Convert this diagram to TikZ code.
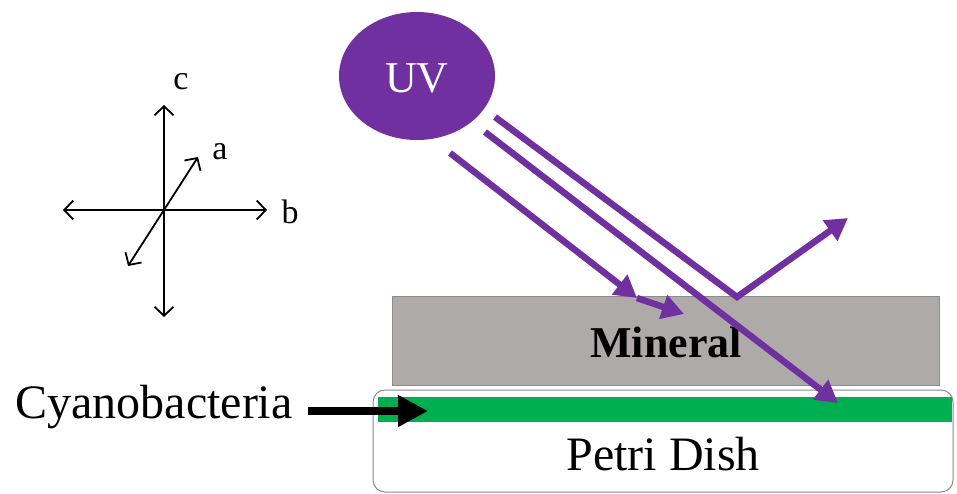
\documentclass[tikz,border=0pt]{standalone}
\usepackage{fontspec}
\setmainfont{Liberation Serif}
\usetikzlibrary{arrows.meta,shapes.geometric}

\definecolor{uvpurple}{HTML}{7030A0}
\definecolor{mineralgray}{HTML}{AEAAAA}
\definecolor{mineraledge}{HTML}{8F8B8B}
\definecolor{cyanogreen}{HTML}{00B050}
\definecolor{dishedge}{HTML}{8A8A8A}

\tikzset{
  axisline/.style={line width=1.8pt, {Straight Barb[length=9pt,width=19pt,line width=1.8pt]}-{Straight Barb[length=9pt,width=19pt,line width=1.8pt]}},
  axislabel/.style={font=\fontsize{34}{34}\selectfont, inner sep=0pt},
  ray/.style={draw=uvpurple, line width=6.5pt, line join=miter,
    -{Triangle[length=22pt,width=24pt]}},
  bigtext/.style={font=\fontsize{48}{48}\selectfont, inner sep=0pt, anchor=base},
}

\begin{document}
\begin{tikzpicture}[x=1pt,y=-1pt]
\useasboundingbox (0,0) rectangle (957,493);

% crystal axes
\coordinate (o) at (164,210);
\coordinate (ctop) at (164,105);
\coordinate (cbot) at (164,317);
\coordinate (bleft) at (63,210);
\coordinate (bright) at (267,210);
\coordinate (alow) at (128,266);
\coordinate (ahigh) at (198,157);
\draw[axisline] (cbot) -- (ctop);
\draw[axisline] (bleft) -- (bright);
\draw[axisline] (alow) -- (ahigh);
\node[axislabel] (lc) at (181,82) {c};
\node[axislabel] (la) at (220,152) {a};
\node[axislabel] (lb) at (290,212) {b};

% petri dish with the cyanobacteria layer
\draw[dishedge, fill=white, line width=1pt, rounded corners=12pt]
  (373,390) rectangle (953,492);
\fill[cyanogreen] (378,397) rectangle (952,422);
\node[bigtext] (petri) at (663,470) {Petri Dish};

% mineral slab
\draw[mineraledge, fill=mineralgray, line width=0.8pt] (392,296) rectangle (939,385);
\node[bigtext, font=\fontsize{44}{44}\selectfont\bfseries] (mineral) at (666,357) {Mineral};

% UV source
\node[ellipse, fill=uvpurple, minimum width=156pt, minimum height=128pt, inner sep=0pt]
  (uv) at (417,76) {};
\node[bigtext, font=\fontsize{44}{44}\selectfont, text=white] (uvtext) at (417,92) {UV};

% rays
\coordinate (r1s) at (450,153);
\coordinate (r1a) at (637,298);
\coordinate (r1b) at (684,314);
\coordinate (r2s) at (485,132);
\coordinate (r2e) at (838,403);
\coordinate (r3s) at (495,117);
\coordinate (r3m) at (737,297);
\coordinate (r3e) at (848,218);
\draw[ray] (r1s) -- (r1a);
\draw[ray] (r1a) -- (r1b);
\draw[ray] (r2s) -- (r2e);
\draw[ray] (r3s) -- (r3m) -- (r3e);

% cyanobacteria label and pointer
\node[bigtext] (cyano) at (154,418) {Cyanobacteria};
\coordinate (cyanotail) at (308,411);
\coordinate (cyanotip) at (428,411);
\draw[line width=8pt, -{Triangle[length=30pt,width=30pt]}] (cyanotail) -- (cyanotip);
\end{tikzpicture}
\end{document}
